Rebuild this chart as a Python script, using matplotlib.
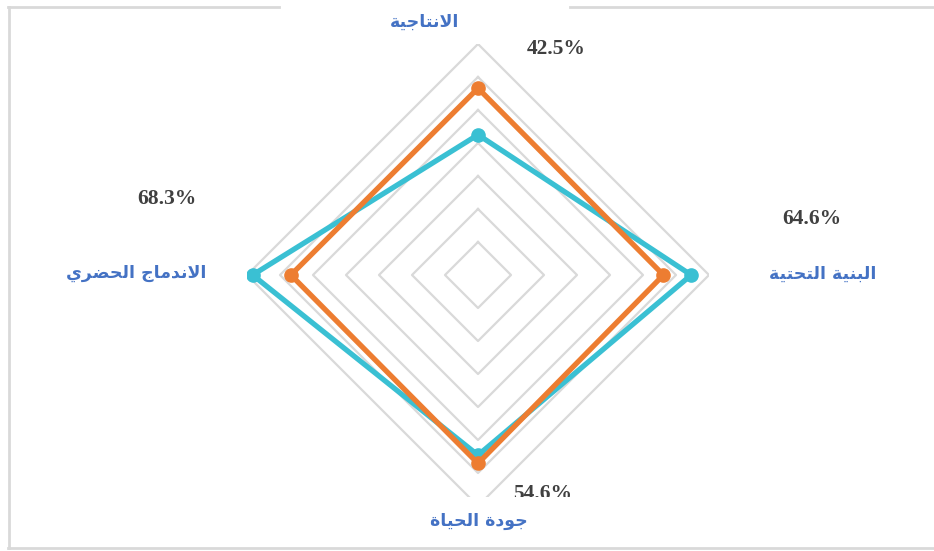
import matplotlib
matplotlib.use('Agg')
import matplotlib.pyplot as plt
import numpy as np
from matplotlib.patches import Rectangle
from matplotlib.lines import Line2D

# axes clockwise from the top
categories = ['الانتاجية', 'البنية التحتية', 'جودة الحياة', 'الاندماج الحضري']
series_cyan = [0.425, 0.646, 0.546, 0.683]
series_orange = [0.566, 0.562, 0.571, 0.567]
value_labels = ['42.5%', '64.6%', '54.6%', '68.3%']
rings = [0.1, 0.2, 0.3, 0.4, 0.5, 0.6, 0.7]

# simple arabic shaping (presentation forms + right-to-left order)
FORMS = {
    'ا': ('\uFE8D', '\uFE8E', None, None),
    'ب': ('\uFE8F', '\uFE90', '\uFE91', '\uFE92'),
    'ة': ('\uFE93', '\uFE94', None, None),
    'ت': ('\uFE95', '\uFE96', '\uFE97', '\uFE98'),
    'ج': ('\uFE9D', '\uFE9E', '\uFE9F', '\uFEA0'),
    'ح': ('\uFEA1', '\uFEA2', '\uFEA3', '\uFEA4'),
    'د': ('\uFEA9', '\uFEAA', None, None),
    'ر': ('\uFEAD', '\uFEAE', None, None),
    'ض': ('\uFEBD', '\uFEBE', '\uFEBF', '\uFEC0'),
    'ل': ('\uFEDD', '\uFEDE', '\uFEDF', '\uFEE0'),
    'م': ('\uFEE1', '\uFEE2', '\uFEE3', '\uFEE4'),
    'ن': ('\uFEE5', '\uFEE6', '\uFEE7', '\uFEE8'),
    'و': ('\uFEED', '\uFEEE', None, None),
    'ي': ('\uFEF1', '\uFEF2', '\uFEF3', '\uFEF4'),
    'لا': ('\uFEFB', '\uFEFC', None, None),
}


def shape(text):
    tokens = []
    i = 0
    while i < len(text):
        if text[i] == 'ل' and i + 1 < len(text) and text[i + 1] == 'ا':
            tokens.append('لا')
            i += 2
        else:
            tokens.append(text[i])
            i += 1
    out = []
    for k, t in enumerate(tokens):
        if t not in FORMS:
            out.append(t)
            continue
        prev = tokens[k - 1] if k > 0 else None
        nxt = tokens[k + 1] if k + 1 < len(tokens) else None
        jp = prev in FORMS and FORMS[prev][2] is not None
        jn = nxt in FORMS and FORMS[t][2] is not None
        iso, fin, ini, med = FORMS[t]
        if jp and jn:
            out.append(med)
        elif jp:
            out.append(fin)
        elif jn:
            out.append(ini)
        else:
            out.append(iso)
    return ''.join(reversed(out))


W, H = 934, 551
fig = plt.figure(figsize=(W / 100, H / 100), dpi=100)
fig.patch.set_facecolor('white')

cx, cy, R = 478, 275, 231
ax = fig.add_axes([(cx - R) / W, (H - cy - R) / H, 2 * R / W, 2 * R / H], projection='polar')
ax.set_theta_zero_location('N')
ax.set_theta_direction(-1)
ax.set_ylim(0, 0.7)
ax.set_axis_off()

angles = np.linspace(0, 2 * np.pi, len(categories), endpoint=False)
closed = np.append(angles, angles[0])

for r in rings:
    ax.plot(closed, [r] * len(closed), color='#D9D9D9', lw=1.6, zorder=1)

ax.plot(closed, series_cyan + series_cyan[:1], color='#3AC0D3', lw=3.8,
        marker='o', markersize=9.5, markevery=[0, 1, 2, 3], zorder=3)
ax.plot(closed, series_orange + series_orange[:1], color='#ED7D31', lw=3.8,
        marker='o', markersize=9.5, markevery=[0, 1, 2, 3], zorder=4)


def px(x, y):
    return x / W, 1 - y / H


pct_style = dict(family='Liberation Serif', fontweight='bold', fontsize=15.5,
                 color='#404040', ha='center', va='center')
lab_style = dict(family='DejaVu Sans', fontweight='bold', fontsize=12.5,
                 color='#4472C4', ha='center', va='center')

fig.text(*px(556, 49), value_labels[0], **pct_style)
fig.text(*px(812, 219), value_labels[1], **pct_style)
fig.text(*px(543, 494), value_labels[2], zorder=2, **pct_style)
fig.text(*px(167, 199), value_labels[3], **pct_style)

# bottom of the chart area is cut off
fig.add_artist(Rectangle(px(10, 546), (W - 10) / W, 49 / H, transform=fig.transFigure,
                         facecolor='white', edgecolor='none', zorder=5))

fig.text(*px(425, 22), shape(categories[0]), zorder=6, **lab_style)
fig.text(*px(823, 274), shape(categories[1]), zorder=6, **lab_style)
fig.text(*px(479, 521), shape(categories[2]), zorder=6, **lab_style)
fig.text(*px(136, 273), shape(categories[3]), zorder=6, **lab_style)

# frame
frame = dict(color='#D9D9D9', lw=2, transform=fig.transFigure, zorder=7)
fig.add_artist(Line2D([9 / W, 9 / W], [1 - 7 / H, 1 - 548 / H], **frame))
fig.add_artist(Line2D([8 / W, 279 / W], [1 - 7 / H, 1 - 7 / H], **frame))
fig.add_artist(Line2D([570 / W, 1], [1 - 7 / H, 1 - 7 / H], **frame))
fig.add_artist(Line2D([8 / W, 1], [1 - 548 / H, 1 - 548 / H], **frame))

fig.savefig('out.png', dpi=100)
